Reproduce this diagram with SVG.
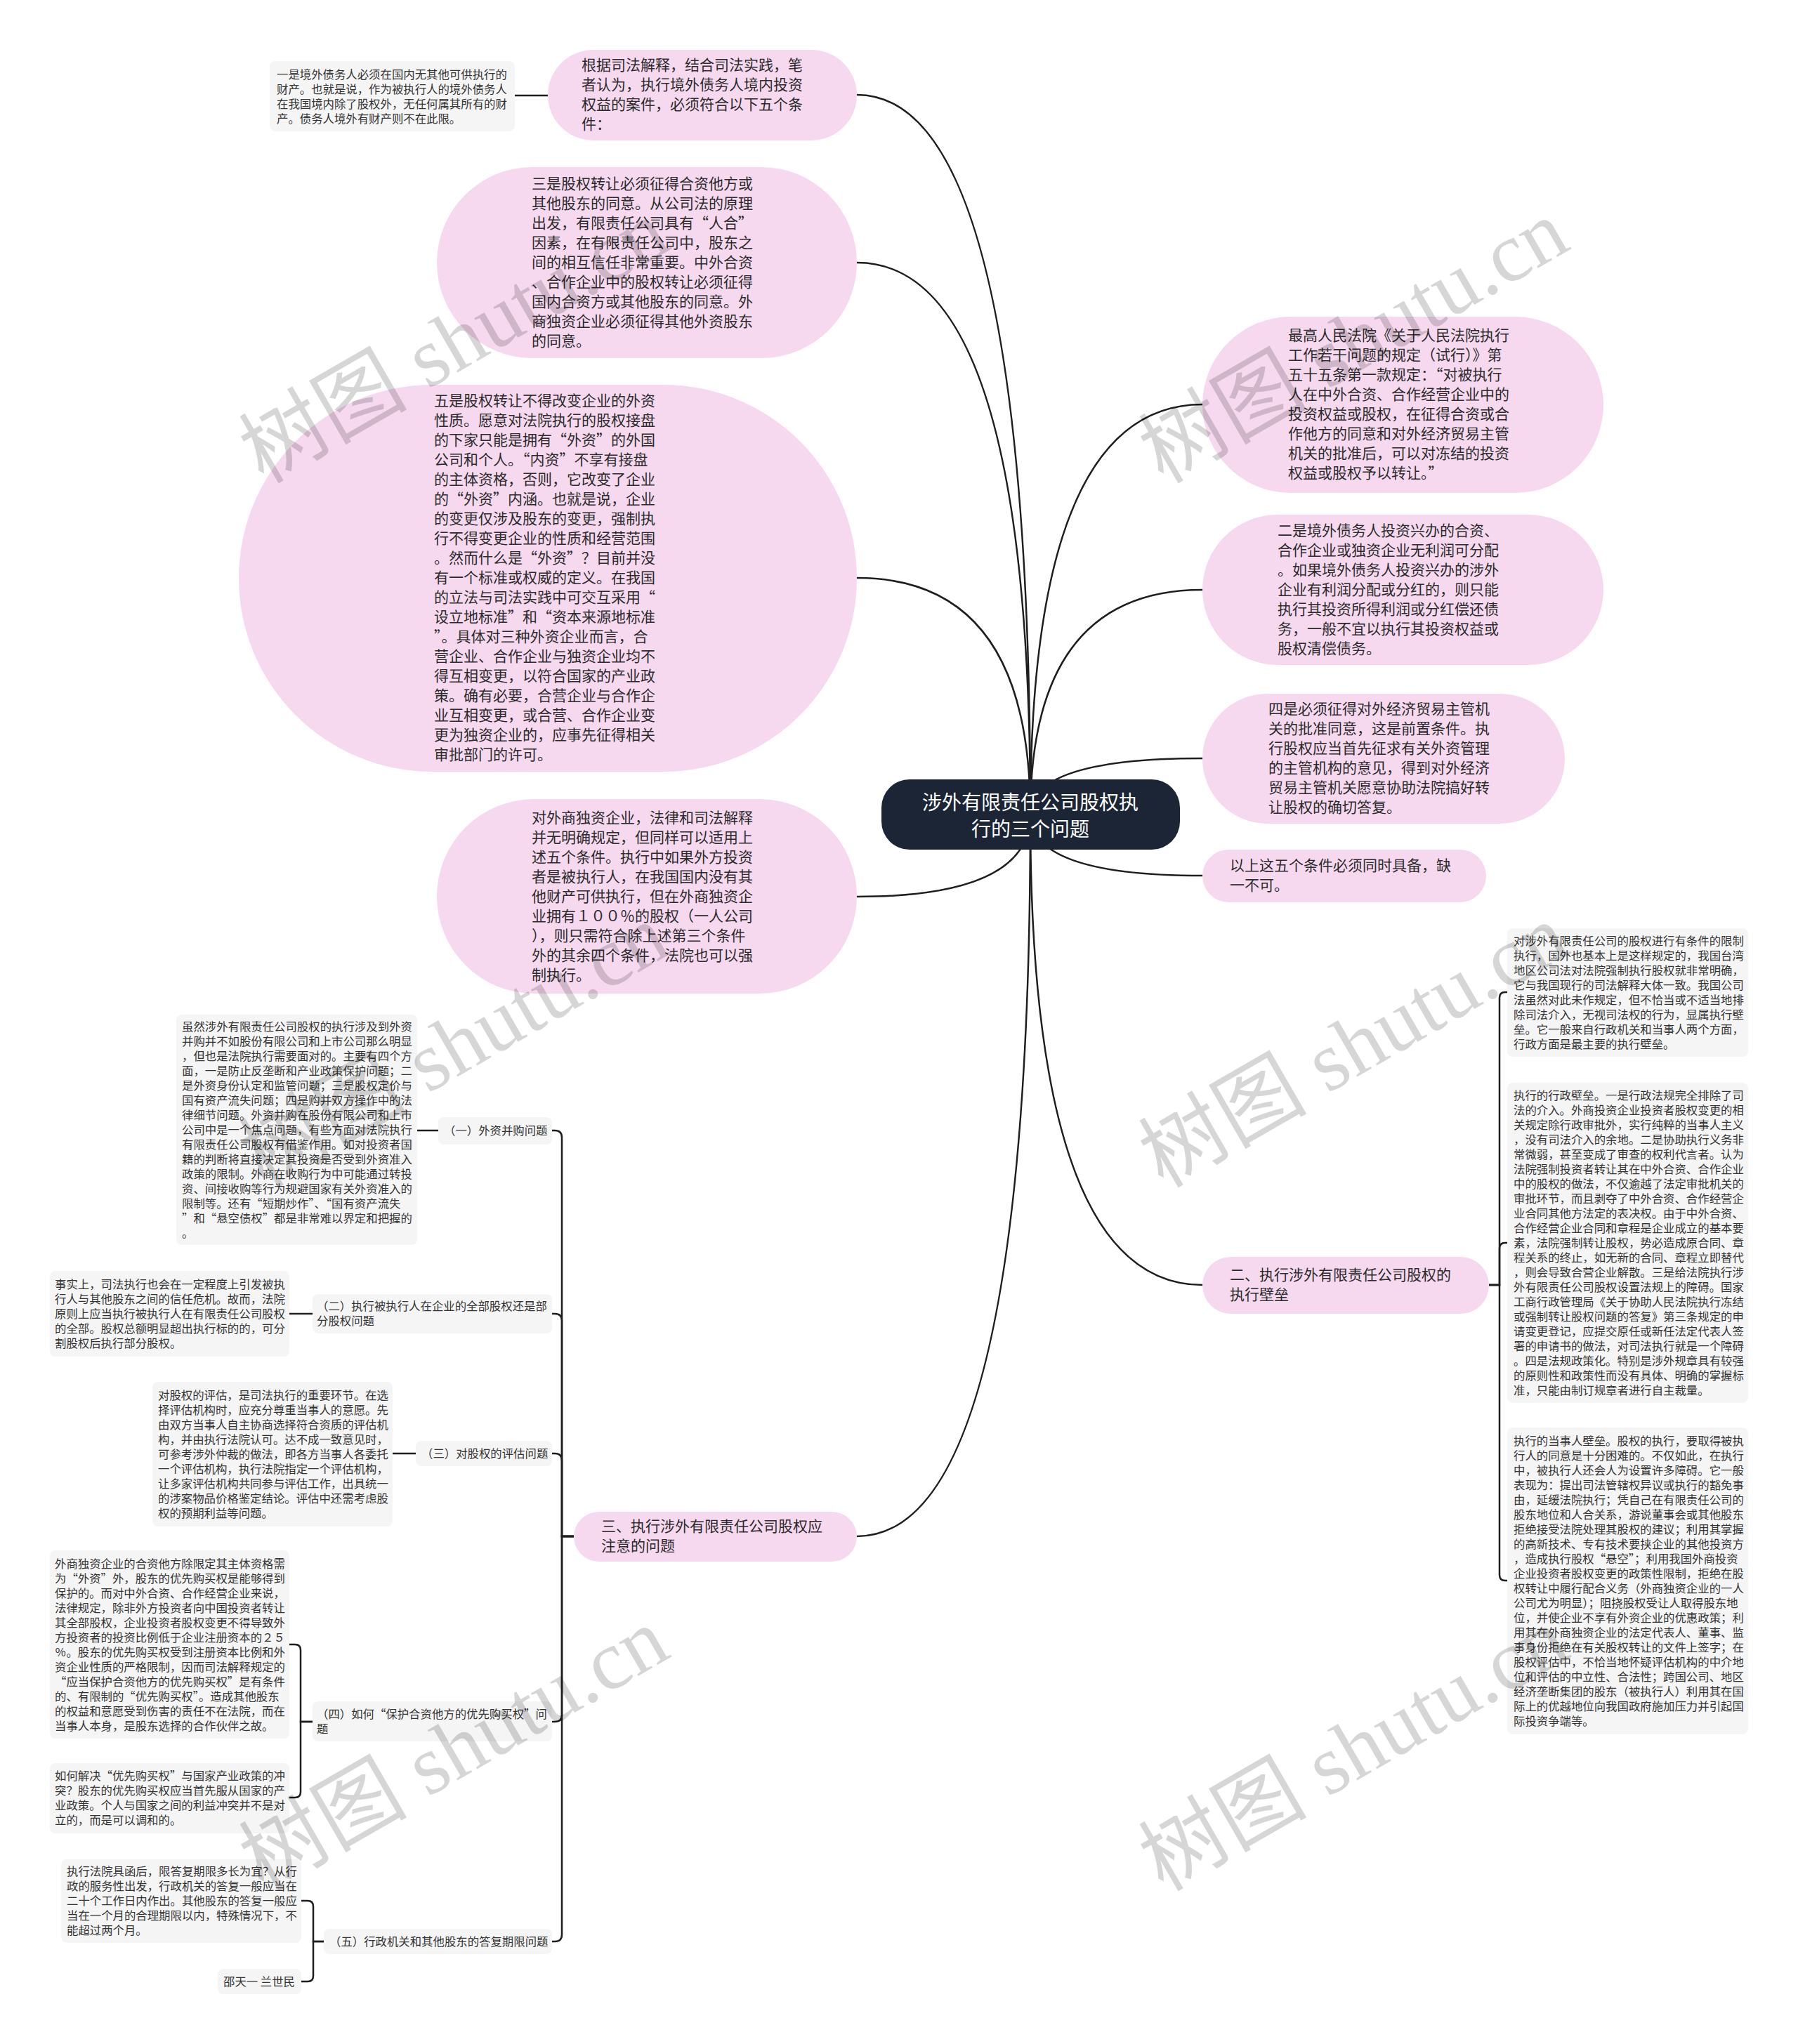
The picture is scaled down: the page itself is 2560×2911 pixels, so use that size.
<svg xmlns="http://www.w3.org/2000/svg" width="2560" height="2911" viewBox="0 0 2560 2911">
<style>
.pk{fill:#f6d9ef}
.gb{fill:#f5f5f5}
.ln{fill:none;stroke:#1e1e1e;stroke-width:2.5}
.t21{font-family:"Noto Sans CJK SC","Noto Sans",sans-serif;font-size:21px;fill:#2b2b2b}
.t16{font-family:"Noto Sans CJK SC","Noto Sans",sans-serif;font-size:16.4px;fill:#333}
.rt{font-family:"Noto Sans CJK SC","Noto Sans",sans-serif;font-size:28px;fill:#ffffff;text-anchor:middle}
.wm{font-family:"Liberation Serif","Noto Sans CJK SC",serif;font-size:120px;fill:#000;fill-opacity:0.16}
</style>
<rect width="2560" height="2911" fill="#ffffff"/>
<g id="connectors">
<path class="ln" d="M1467,1160 Q1467,135 1220,135"/>
<path class="ln" d="M1467,1160 Q1467,374 1220,374"/>
<path class="ln" d="M1467,1160 Q1467,823 1220,823"/>
<path class="ln" d="M1467,1160 Q1467,1277 1220,1277"/>
<path class="ln" d="M1467,1160 Q1467,576 1712,576"/>
<path class="ln" d="M1467,1160 Q1467,840 1712,840"/>
<path class="ln" d="M1467,1160 Q1467,1080 1712,1080"/>
<path class="ln" d="M1467,1160 Q1467,1247 1712,1247"/>
<path class="ln" d="M1467,1160 Q1467,1830 1712,1830"/>
<path class="ln" d="M1467,1160 Q1467,2188 1220,2188"/>
<path class="ln" d="M733,136 H780"/>
<path class="ln" d="M2120,1830 H2135 V1421 Q2135,1413 2143,1413 H2146"/>
<path class="ln" d="M2120,1830 H2135 V1778 Q2135,1770 2143,1770 H2146"/>
<path class="ln" d="M2120,1830 H2135 V2243 Q2135,2251 2143,2251 H2146"/>
<path class="ln" d="M817,2188 H800 V1620 Q800,1610 790,1610 H786"/>
<path class="ln" d="M817,2188 H800 V1881 Q800,1871 790,1871 H786"/>
<path class="ln" d="M817,2188 H800 V2080 Q800,2070 790,2070 H786"/>
<path class="ln" d="M817,2188 H800 V2442 Q800,2452 790,2452 H786"/>
<path class="ln" d="M817,2188 H800 V2755 Q800,2765 790,2765 H786"/>
<path class="ln" d="M594,1610 H624"/>
<path class="ln" d="M412,1871 H445"/>
<path class="ln" d="M559,2070 H592"/>
<path class="ln" d="M445,2452 H428 V2350 Q428,2342 420,2342 H412"/>
<path class="ln" d="M445,2452 H428 V2552 Q428,2560 420,2560 H412"/>
<path class="ln" d="M461,2765 H446 V2715 Q446,2707 438,2707 H429"/>
<path class="ln" d="M461,2765 H446 V2814 Q446,2822 438,2822 H429"/>
</g>
<g id="root">
<rect x="1255" y="1110" width="425" height="100" rx="40" fill="#1b2535"/>
<text class="rt"><tspan x="1467" y="1153">涉外有限责任公司股权执</tspan><tspan x="1467" y="1191">行的三个问题</tspan></text>
</g>
<g id="n-tl">
<rect class="gb" x="384" y="87" width="349" height="100" rx="8"/>
<text class="t16"><tspan x="394" y="111.5">一是境外债务人必须在国内无其他可供执行的</tspan><tspan x="394" y="132.5">财产。也就是说，作为被执行人的境外债务人</tspan><tspan x="394" y="153.5">在我国境内除了股权外，无任何属其所有的财</tspan><tspan x="394" y="174.5">产。债务人境外有财产则不在此限。</tspan></text>
</g>
<g id="n1">
<rect class="pk" x="780" y="71" width="440" height="129" rx="64.5"/>
<text class="t21"><tspan x="828" y="100">根据司法解释，结合司法实践，笔</tspan><tspan x="828" y="128">者认为，执行境外债务人境内投资</tspan><tspan x="828" y="156">权益的案件，必须符合以下五个条</tspan><tspan x="828" y="184">件：</tspan></text>
</g>
<g id="n2">
<rect class="pk" x="622" y="238" width="598" height="272" rx="136"/>
<text class="t21"><tspan x="757" y="269">三是股权转让必须征得合资他方或</tspan><tspan x="757" y="297">其他股东的同意。从公司法的原理</tspan><tspan x="757" y="325">出发，有限责任公司具有“人合”</tspan><tspan x="757" y="353">因素，在有限责任公司中，股东之</tspan><tspan x="757" y="381">间的相互信任非常重要。中外合资</tspan><tspan x="757" y="409">、合作企业中的股权转让必须征得</tspan><tspan x="757" y="437">国内合资方或其他股东的同意。外</tspan><tspan x="757" y="465">商独资企业必须征得其他外资股东</tspan><tspan x="757" y="493">的同意。</tspan></text>
</g>
<g id="n3">
<rect class="pk" x="340" y="548" width="880" height="551" rx="275.5"/>
<text class="t21"><tspan x="618" y="578">五是股权转让不得改变企业的外资</tspan><tspan x="618" y="606">性质。愿意对法院执行的股权接盘</tspan><tspan x="618" y="634">的下家只能是拥有“外资”的外国</tspan><tspan x="618" y="662">公司和个人。“内资”不享有接盘</tspan><tspan x="618" y="690">的主体资格，否则，它改变了企业</tspan><tspan x="618" y="718">的“外资”内涵。也就是说，企业</tspan><tspan x="618" y="746">的变更仅涉及股东的变更，强制执</tspan><tspan x="618" y="774">行不得变更企业的性质和经营范围</tspan><tspan x="618" y="802">。然而什么是“外资”？目前并没</tspan><tspan x="618" y="830">有一个标准或权威的定义。在我国</tspan><tspan x="618" y="858">的立法与司法实践中可交互采用“</tspan><tspan x="618" y="886">设立地标准”和“资本来源地标准</tspan><tspan x="618" y="914">”。具体对三种外资企业而言，合</tspan><tspan x="618" y="942">营企业、合作企业与独资企业均不</tspan><tspan x="618" y="970">得互相变更，以符合国家的产业政</tspan><tspan x="618" y="998">策。确有必要，合营企业与合作企</tspan><tspan x="618" y="1026">业互相变更，或合营、合作企业变</tspan><tspan x="618" y="1054">更为独资企业的，应事先征得相关</tspan><tspan x="618" y="1082">审批部门的许可。</tspan></text>
</g>
<g id="n4">
<rect class="pk" x="622" y="1138" width="598" height="277" rx="138.5"/>
<text class="t21"><tspan x="757" y="1172">对外商独资企业，法律和司法解释</tspan><tspan x="757" y="1200">并无明确规定，但同样可以适用上</tspan><tspan x="757" y="1228">述五个条件。执行中如果外方投资</tspan><tspan x="757" y="1256">者是被执行人，在我国国内没有其</tspan><tspan x="757" y="1284">他财产可供执行，但在外商独资企</tspan><tspan x="757" y="1312">业拥有１００％的股权（一人公司</tspan><tspan x="757" y="1340">），则只需符合除上述第三个条件</tspan><tspan x="757" y="1368">外的其余四个条件，法院也可以强</tspan><tspan x="757" y="1396">制执行。</tspan></text>
</g>
<g id="n5">
<rect class="pk" x="1712" y="451" width="571" height="251" rx="125.5"/>
<text class="t21"><tspan x="1834" y="485">最高人民法院《关于人民法院执行</tspan><tspan x="1834" y="513">工作若干问题的规定（试行）》第</tspan><tspan x="1834" y="541">五十五条第一款规定：“对被执行</tspan><tspan x="1834" y="569">人在中外合资、合作经营企业中的</tspan><tspan x="1834" y="597">投资权益或股权，在征得合资或合</tspan><tspan x="1834" y="625">作他方的同意和对外经济贸易主管</tspan><tspan x="1834" y="653">机关的批准后，可以对冻结的投资</tspan><tspan x="1834" y="681">权益或股权予以转让。”</tspan></text>
</g>
<g id="n6">
<rect class="pk" x="1712" y="733" width="571" height="214" rx="107"/>
<text class="t21"><tspan x="1819" y="763">二是境外债务人投资兴办的合资、</tspan><tspan x="1819" y="791">合作企业或独资企业无利润可分配</tspan><tspan x="1819" y="819">。如果境外债务人投资兴办的涉外</tspan><tspan x="1819" y="847">企业有利润分配或分红的，则只能</tspan><tspan x="1819" y="875">执行其投资所得利润或分红偿还债</tspan><tspan x="1819" y="903">务，一般不宜以执行其投资权益或</tspan><tspan x="1819" y="931">股权清偿债务。</tspan></text>
</g>
<g id="n7">
<rect class="pk" x="1712" y="988" width="516" height="185" rx="92.5"/>
<text class="t21"><tspan x="1806" y="1017">四是必须征得对外经济贸易主管机</tspan><tspan x="1806" y="1045">关的批准同意，这是前置条件。执</tspan><tspan x="1806" y="1073">行股权应当首先征求有关外资管理</tspan><tspan x="1806" y="1101">的主管机构的意见，得到对外经济</tspan><tspan x="1806" y="1129">贸易主管机关愿意协助法院搞好转</tspan><tspan x="1806" y="1157">让股权的确切答复。</tspan></text>
</g>
<g id="n8">
<rect class="pk" x="1712" y="1210" width="404" height="75" rx="37.5"/>
<text class="t21"><tspan x="1751" y="1240">以上这五个条件必须同时具备，缺</tspan><tspan x="1751" y="1268">一不可。</tspan></text>
</g>
<g id="n9">
<rect class="pk" x="1712" y="1790" width="408" height="81" rx="40.5"/>
<text class="t21"><tspan x="1751" y="1823">二、执行涉外有限责任公司股权的</tspan><tspan x="1751" y="1851">执行壁垒</tspan></text>
</g>
<g id="n9a">
<rect class="gb" x="2146" y="1322" width="343" height="183" rx="8"/>
<text class="t16"><tspan x="2155" y="1346">对涉外有限责任公司的股权进行有条件的限制</tspan><tspan x="2155" y="1367">执行，国外也基本上是这样规定的，我国台湾</tspan><tspan x="2155" y="1388">地区公司法对法院强制执行股权就非常明确，</tspan><tspan x="2155" y="1409">它与我国现行的司法解释大体一致。我国公司</tspan><tspan x="2155" y="1430">法虽然对此未作规定，但不恰当或不适当地排</tspan><tspan x="2155" y="1451">除司法介入，无视司法权的行为，显属执行壁</tspan><tspan x="2155" y="1472">垒。它一般来自行政机关和当事人两个方面，</tspan><tspan x="2155" y="1493">行政方面是最主要的执行壁垒。</tspan></text>
</g>
<g id="n9b">
<rect class="gb" x="2146" y="1542" width="343" height="456" rx="8"/>
<text class="t16"><tspan x="2155" y="1566">执行的行政壁垒。一是行政法规完全排除了司</tspan><tspan x="2155" y="1587">法的介入。外商投资企业投资者股权变更的相</tspan><tspan x="2155" y="1608">关规定除行政审批外，实行纯粹的当事人主义</tspan><tspan x="2155" y="1629">，没有司法介入的余地。二是协助执行义务非</tspan><tspan x="2155" y="1650">常微弱，甚至变成了审查的权利代言者。认为</tspan><tspan x="2155" y="1671">法院强制投资者转让其在中外合资、合作企业</tspan><tspan x="2155" y="1692">中的股权的做法，不仅逾越了法定审批机关的</tspan><tspan x="2155" y="1713">审批环节，而且剥夺了中外合资、合作经营企</tspan><tspan x="2155" y="1734">业合同其他方法定的表决权。由于中外合资、</tspan><tspan x="2155" y="1755">合作经营企业合同和章程是企业成立的基本要</tspan><tspan x="2155" y="1776">素，法院强制转让股权，势必造成原合同、章</tspan><tspan x="2155" y="1797">程关系的终止，如无新的合同、章程立即替代</tspan><tspan x="2155" y="1818">，则会导致合营企业解散。三是给法院执行涉</tspan><tspan x="2155" y="1839">外有限责任公司股权设置法规上的障碍。国家</tspan><tspan x="2155" y="1860">工商行政管理局《关于协助人民法院执行冻结</tspan><tspan x="2155" y="1881">或强制转让股权问题的答复》第三条规定的申</tspan><tspan x="2155" y="1902">请变更登记，应提交原任或新任法定代表人签</tspan><tspan x="2155" y="1923">署的申请书的做法，对司法执行就是一个障碍</tspan><tspan x="2155" y="1944">。四是法规政策化。特别是涉外规章具有较强</tspan><tspan x="2155" y="1965">的原则性和政策性而没有具体、明确的掌握标</tspan><tspan x="2155" y="1986">准，只能由制订规章者进行自主裁量。</tspan></text>
</g>
<g id="n9c">
<rect class="gb" x="2146" y="2033" width="343" height="437" rx="8"/>
<text class="t16"><tspan x="2155" y="2058">执行的当事人壁垒。股权的执行，要取得被执</tspan><tspan x="2155" y="2079">行人的同意是十分困难的。不仅如此，在执行</tspan><tspan x="2155" y="2100">中，被执行人还会人为设置许多障碍。它一般</tspan><tspan x="2155" y="2121">表现为：提出司法管辖权异议或执行的豁免事</tspan><tspan x="2155" y="2142">由，延缓法院执行；凭自己在有限责任公司的</tspan><tspan x="2155" y="2163">股东地位和人合关系，游说董事会或其他股东</tspan><tspan x="2155" y="2184">拒绝接受法院处理其股权的建议；利用其掌握</tspan><tspan x="2155" y="2205">的高新技术、专有技术要挟企业的其他投资方</tspan><tspan x="2155" y="2226">，造成执行股权“悬空”；利用我国外商投资</tspan><tspan x="2155" y="2247">企业投资者股权变更的政策性限制，拒绝在股</tspan><tspan x="2155" y="2268">权转让中履行配合义务（外商独资企业的一人</tspan><tspan x="2155" y="2289">公司尤为明显）；阻挠股权受让人取得股东地</tspan><tspan x="2155" y="2310">位，并使企业不享有外资企业的优惠政策；利</tspan><tspan x="2155" y="2331">用其在外商独资企业的法定代表人、董事、监</tspan><tspan x="2155" y="2352">事身份拒绝在有关股权转让的文件上签字；在</tspan><tspan x="2155" y="2373">股权评估中，不恰当地怀疑评估机构的中介地</tspan><tspan x="2155" y="2394">位和评估的中立性、合法性；跨国公司、地区</tspan><tspan x="2155" y="2415">经济垄断集团的股东（被执行人）利用其在国</tspan><tspan x="2155" y="2436">际上的优越地位向我国政府施加压力并引起国</tspan><tspan x="2155" y="2457">际投资争端等。</tspan></text>
</g>
<g id="n10">
<rect class="pk" x="817" y="2153" width="403" height="71" rx="35.5"/>
<text class="t21"><tspan x="856" y="2181">三、执行涉外有限责任公司股权应</tspan><tspan x="856" y="2209">注意的问题</tspan></text>
</g>
<g id="c1">
<rect class="gb" x="624" y="1591" width="162" height="39" rx="8"/>
<text class="t16" x="632" y="1616">（一）外资并购问题</text>
</g>
<g id="c1a">
<rect class="gb" x="251" y="1445" width="343" height="328" rx="8"/>
<text class="t16"><tspan x="259" y="1468">虽然涉外有限责任公司股权的执行涉及到外资</tspan><tspan x="259" y="1489">并购并不如股份有限公司和上市公司那么明显</tspan><tspan x="259" y="1510">，但也是法院执行需要面对的。主要有四个方</tspan><tspan x="259" y="1531">面，一是防止反垄断和产业政策保护问题；二</tspan><tspan x="259" y="1552">是外资身份认定和监管问题；三是股权定价与</tspan><tspan x="259" y="1573">国有资产流失问题；四是购并双方操作中的法</tspan><tspan x="259" y="1594">律细节问题。外资并购在股份有限公司和上市</tspan><tspan x="259" y="1615">公司中是一个焦点问题，有些方面对法院执行</tspan><tspan x="259" y="1636">有限责任公司股权有借鉴作用。如对投资者国</tspan><tspan x="259" y="1657">籍的判断将直接决定其投资是否受到外资准入</tspan><tspan x="259" y="1678">政策的限制。外商在收购行为中可能通过转投</tspan><tspan x="259" y="1699">资、间接收购等行为规避国家有关外资准入的</tspan><tspan x="259" y="1720">限制等。还有“短期炒作”、“国有资产流失</tspan><tspan x="259" y="1741">”和“悬空债权”都是非常难以界定和把握的</tspan><tspan x="259" y="1762">。</tspan></text>
</g>
<g id="c2">
<rect class="gb" x="445" y="1843" width="341" height="56" rx="8"/>
<text class="t16"><tspan x="451" y="1866">（二）执行被执行人在企业的全部股权还是部</tspan><tspan x="451" y="1887">分股权问题</tspan></text>
</g>
<g id="c2a">
<rect class="gb" x="71" y="1810" width="341" height="122" rx="8"/>
<text class="t16"><tspan x="78" y="1835">事实上，司法执行也会在一定程度上引发被执</tspan><tspan x="78" y="1856">行人与其他股东之间的信任危机。故而，法院</tspan><tspan x="78" y="1877">原则上应当执行被执行人在有限责任公司股权</tspan><tspan x="78" y="1898">的全部。股权总额明显超出执行标的的，可分</tspan><tspan x="78" y="1919">割股权后执行部分股权。</tspan></text>
</g>
<g id="c3">
<rect class="gb" x="592" y="2052" width="194" height="36" rx="8"/>
<text class="t16" x="600" y="2076">（三）对股权的评估问题</text>
</g>
<g id="c3a">
<rect class="gb" x="217" y="1968" width="342" height="206" rx="8"/>
<text class="t16"><tspan x="225" y="1993">对股权的评估，是司法执行的重要环节。在选</tspan><tspan x="225" y="2014">择评估机构时，应充分尊重当事人的意愿。先</tspan><tspan x="225" y="2035">由双方当事人自主协商选择符合资质的评估机</tspan><tspan x="225" y="2056">构，并由执行法院认可。达不成一致意见时，</tspan><tspan x="225" y="2077">可参考涉外仲裁的做法，即各方当事人各委托</tspan><tspan x="225" y="2098">一个评估机构，执行法院指定一个评估机构，</tspan><tspan x="225" y="2119">让多家评估机构共同参与评估工作，出具统一</tspan><tspan x="225" y="2140">的涉案物品价格鉴定结论。评估中还需考虑股</tspan><tspan x="225" y="2161">权的预期利益等问题。</tspan></text>
</g>
<g id="c4">
<rect class="gb" x="445" y="2423" width="341" height="57" rx="8"/>
<text class="t16"><tspan x="451" y="2447">（四）如何“保护合资他方的优先购买权”问</tspan><tspan x="451" y="2468">题</tspan></text>
</g>
<g id="c4a">
<rect class="gb" x="71" y="2208" width="341" height="268" rx="8"/>
<text class="t16"><tspan x="78" y="2232.5">外商独资企业的合资他方除限定其主体资格需</tspan><tspan x="78" y="2253.5">为“外资”外，股东的优先购买权是能够得到</tspan><tspan x="78" y="2274.5">保护的。而对中外合资、合作经营企业来说，</tspan><tspan x="78" y="2295.5">法律规定，除非外方投资者向中国投资者转让</tspan><tspan x="78" y="2316.5">其全部股权，企业投资者股权变更不得导致外</tspan><tspan x="78" y="2337.5">方投资者的投资比例低于企业注册资本的２５</tspan><tspan x="78" y="2358.5">％。股东的优先购买权受到注册资本比例和外</tspan><tspan x="78" y="2379.5">资企业性质的严格限制，因而司法解释规定的</tspan><tspan x="78" y="2400.5">“应当保护合资他方的优先购买权”是有条件</tspan><tspan x="78" y="2421.5">的、有限制的“优先购买权”。造成其他股东</tspan><tspan x="78" y="2442.5">的权益和意愿受到伤害的责任不在法院，而在</tspan><tspan x="78" y="2463.5">当事人本身，是股东选择的合作伙伴之故。</tspan></text>
</g>
<g id="c4b">
<rect class="gb" x="71" y="2511" width="341" height="100" rx="8"/>
<text class="t16"><tspan x="78" y="2535">如何解决“优先购买权”与国家产业政策的冲</tspan><tspan x="78" y="2556">突？股东的优先购买权应当首先服从国家的产</tspan><tspan x="78" y="2577">业政策。个人与国家之间的利益冲突并不是对</tspan><tspan x="78" y="2598">立的，而是可以调和的。</tspan></text>
</g>
<g id="c5">
<rect class="gb" x="461" y="2747" width="325" height="36" rx="8"/>
<text class="t16" x="469" y="2771">（五）行政机关和其他股东的答复期限问题</text>
</g>
<g id="c5a">
<rect class="gb" x="87" y="2648" width="342" height="119" rx="8"/>
<text class="t16"><tspan x="95" y="2671">执行法院具函后，限答复期限多长为宜？从行</tspan><tspan x="95" y="2692">政的服务性出发，行政机关的答复一般应当在</tspan><tspan x="95" y="2713">二十个工作日内作出。其他股东的答复一般应</tspan><tspan x="95" y="2734">当在一个月的合理期限以内，特殊情况下，不</tspan><tspan x="95" y="2755">能超过两个月。</tspan></text>
</g>
<g id="c5b">
<rect class="gb" x="310" y="2804" width="119" height="36" rx="8"/>
<text class="t16" x="318" y="2828">邵天一 兰世民</text>
</g>
<g id="watermark">
<text class="wm" transform="translate(375,690) rotate(-30)">树图 shutu.cn</text>
<text class="wm" transform="translate(1656,690) rotate(-30)">树图 shutu.cn</text>
<text class="wm" transform="translate(375,1693) rotate(-30)">树图 shutu.cn</text>
<text class="wm" transform="translate(1656,1693) rotate(-30)">树图 shutu.cn</text>
<text class="wm" transform="translate(375,2695) rotate(-30)">树图 shutu.cn</text>
<text class="wm" transform="translate(1656,2695) rotate(-30)">树图 shutu.cn</text>
</g>
</svg>
